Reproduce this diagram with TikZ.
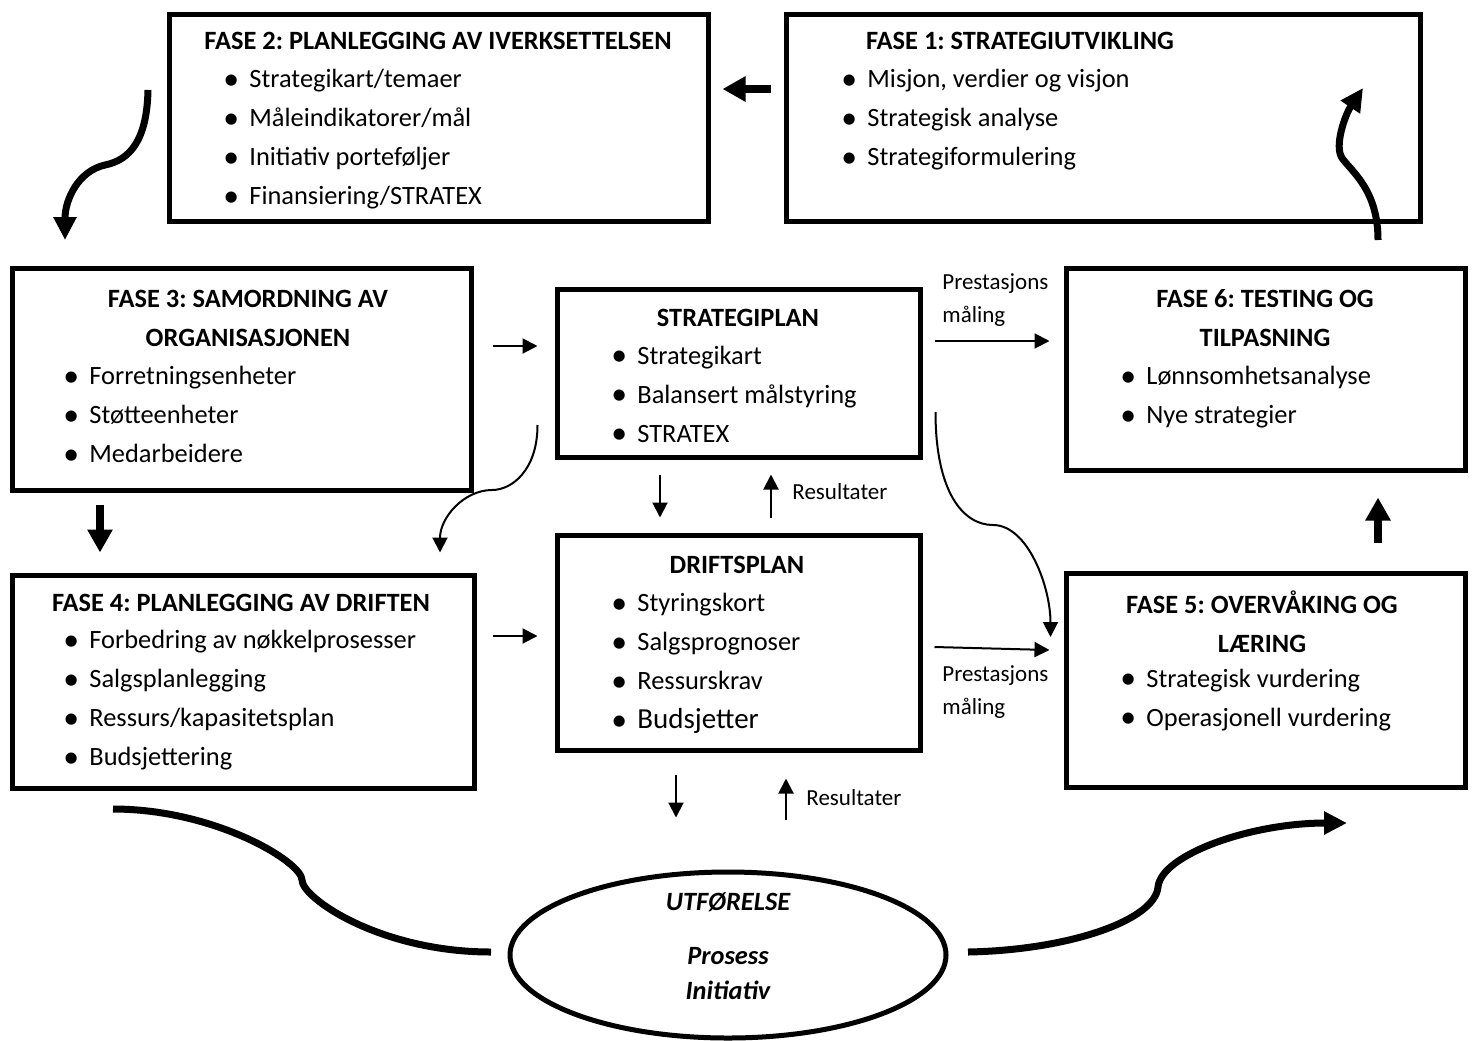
\documentclass[tikz,border=0pt]{standalone}
\usepackage{fontspec}
\usepackage{graphicx}
\setmainfont{Carlito}
\usetikzlibrary{arrows.meta,shapes.geometric}
\frenchspacing

\newcommand{\blt}{\makebox[13pt][l]{\raisebox{-0.7pt}{\scalebox{1.2}{\textbullet}}}}
\newcommand{\punkter}[1]{\begin{tabular}{@{}l@{}}#1\end{tabular}}

\tikzset{
  boks/.style={draw, line width=2.5pt, inner sep=0pt},
  tittel/.style={font=\fontsize{13.2pt}{19.5pt}\selectfont\bfseries, align=center, inner sep=0pt},
  liste/.style={anchor=west, inner sep=0pt},
  etikett/.style={font=\fontsize{11.5pt}{16.5pt}\selectfont, align=left, anchor=west, inner sep=0pt},
  tynn/.style={line width=1pt, -{Triangle[length=7.5pt,width=7.5pt]}},
  tykk/.style={line width=4pt, -{Triangle[length=11.5pt,width=12pt]}},
  buet/.style={line width=3.5pt, -{Triangle[length=11.5pt,width=11pt]}}
}

\begin{document}
\begin{tikzpicture}[x=0.5pt,y=-0.5pt,font=\fontsize{13.2pt}{19.5pt}\selectfont]
\useasboundingbox (0,0) rectangle (1472,1040);

\node[boks, minimum width=269.5pt, minimum height=103.5pt] (fase2) at (438.5,117.5) {};
\node[tittel] (t2) at (438,41) {FASE 2: PLANLEGGING AV IVERKSETTELSEN};
\node[liste] (l2) at (223,138.5) {\punkter{\blt Strategikart/temaer\\ \blt Måleindikatorer/mål\\ \blt Initiativ porteføljer\\ \blt Finansiering/STRATEX}};

\node[boks, minimum width=317pt, minimum height=103.5pt] (fase1) at (1103,117.5) {};
\node[tittel] (t1) at (1020,41) {FASE 1: STRATEGIUTVIKLING};
\node[liste] (l1) at (841,119) {\punkter{\blt Misjon, verdier og visjon\\ \blt Strategisk analyse\\ \blt Strategiformulering}};

\node[boks, minimum width=229.5pt, minimum height=111pt] (fase3) at (241.5,379) {};
\node[tittel] (t3) at (248,318) {FASE 3: SAMORDNING AV\\ ORGANISASJONEN};
\node[liste] (l3) at (63,416) {\punkter{\blt Forretningsenheter\\ \blt Støtteenheter\\ \blt Medarbeidere}};

\node[boks, minimum width=181.5pt, minimum height=84pt] (sp) at (738.5,373) {};
\node[tittel] (tsp) at (738,318) {STRATEGIPLAN};
\node[liste] (lsp) at (611,395.5) {\punkter{\blt Strategikart\\ \blt Balansert målstyring\\ \blt STRATEX}};

\node[boks, minimum width=199.5pt, minimum height=101pt] (fase6) at (1265.5,369) {};
\node[tittel] (t6) at (1265,318) {FASE 6: TESTING OG\\ TILPASNING};
\node[liste] (l6) at (1120,396.5) {\punkter{\blt Lønnsomhetsanalyse\\ \blt Nye strategier}};

\node[boks, minimum width=231pt, minimum height=106.5pt] (fase4) at (243,681.5) {};
\node[tittel] (t4) at (241,603) {FASE 4: PLANLEGGING AV DRIFTEN};
\node[liste] (l4) at (63,699.5) {\punkter{\blt Forbedring av nøkkelprosesser\\ \blt Salgsplanlegging\\ \blt Ressurs/kapasitetsplan\\ \blt Budsjettering}};

\node[boks, minimum width=181.5pt, minimum height=107.5pt] (dp) at (738.5,642.5) {};
\node[tittel] (tdp) at (737,565) {DRIFTSPLAN};
\node[liste] (ldp) at (611,662.5) {\punkter{\blt Styringskort\\ \blt Salgsprognoser\\ \blt Ressurskrav\\ \blt {\fontsize{14.5pt}{19.5pt}\selectfont Budsjetter}}};

\node[boks, minimum width=199.5pt, minimum height=107pt] (fase5) at (1265.5,680) {};
\node[tittel] (t5) at (1262,622) {FASE 5: OVERVÅKING OG\\ LÆRING};
\node[liste] (l5) at (1120,699) {\punkter{\blt Strategisk vurdering\\ \blt Operasjonell vurdering}};

\node[ellipse, draw, line width=2.5pt, minimum width=218pt, minimum height=83pt] (utf) at (728,955) {};
\node[font=\fontsize{13.2pt}{17.5pt}\selectfont\bfseries\itshape, align=center, inner sep=0pt] (tutf) at (728,946) {UTFØRELSE\\[9.5pt] Prosess\\ Initiativ};

\node[etikett] (e1) at (942,300) {Prestasjons\\ måling};
\node[etikett] (e2) at (942,692) {Prestasjons\\ måling};
\node[etikett] (r1) at (792,492) {Resultater};
\node[etikett] (r2) at (806,798) {Resultater};

\draw[tykk] ([xshift=-6.5pt,yshift=14.25pt]fase1.west) -- ([xshift=6pt,yshift=14.25pt]fase2.east);
\draw[tykk] ([xshift=-70.75pt,yshift=-6pt]fase3.south) -- ([xshift=-71.5pt,yshift=10pt]fase4.north);
\draw[tykk] ([xshift=56.25pt,yshift=14pt]fase5.north) -- ([xshift=56.25pt,yshift=-12.5pt]fase6.south);

\draw[tynn] ([xshift=9.5pt,yshift=16.5pt]fase3.east) -- ([xshift=-8.5pt,yshift=13.5pt]sp.west);
\draw[tynn] ([xshift=8pt,yshift=22.75pt]fase4.east) -- ([xshift=-8.5pt,yshift=3.25pt]dp.west);
\draw[tynn] ([xshift=6pt,yshift=16pt]sp.east) -- ([xshift=-7pt,yshift=14pt]fase6.west);
\draw[tynn] ([xshift=6pt,yshift=-2.25pt]dp.east) -- ([xshift=-7pt,yshift=15pt]fase5.west);
\draw[tynn] ([xshift=-39.25pt,yshift=-7.5pt]sp.south) -- ([xshift=-39.25pt,yshift=7.5pt]dp.north);
\draw[tynn] ([xshift=16.25pt,yshift=7.5pt]dp.north) -- ([xshift=16.25pt,yshift=-7.5pt]sp.south);
\draw[tynn] ([xshift=-31.25pt,yshift=-11pt]dp.south) -- ([xshift=-26pt,yshift=26pt]utf.north);
\draw[tynn] ([xshift=29pt,yshift=25pt]utf.north) -- ([xshift=23.75pt,yshift=-13pt]dp.south);

\draw[tynn] ([xshift=-8.5pt,yshift=-26pt]sp.west) .. controls +(0,45) and +(20,0) .. (492,490) .. controls +(-28,0) and +(0,-35) .. ([xshift=98.5pt,yshift=10pt]fase4.north);
\draw[tynn] ([xshift=6.5pt,yshift=-19.5pt]sp.east) .. controls +(0,80) and +(-30,0) .. (993,525) .. controls +(35,0) and +(0,-50) .. ([xshift=-6.5pt,yshift=21.5pt]fase5.west);

\coordinate (k1a) at (148,90);
\coordinate (k1b) at (65,240);
\coordinate (k2a) at (1378,240);
\coordinate (k2b) at (1363,88);
\coordinate (k3a) at (113,809);
\coordinate (k3b) at (491,952);
\coordinate (k4a) at (968,952);
\coordinate (k4b) at (1347,823);
\draw[buet] (k1a) .. controls (147,140) and (130,160) .. (105,165) .. controls (78,171) and (65,200) .. (k1b);
\draw[buet] (k2a) .. controls (1378,190) and (1352,172) .. (1342,158) .. controls (1334,146) and (1345,115) .. (k2b);
\draw[line width=3.5pt] (k3a) .. controls (215,809) and (302,862) .. (302,880) .. controls (302,898) and (380,952) .. (k3b);
\draw[buet] (k4a) .. controls (1070,950) and (1155,920) .. (1158,887) .. controls (1161,855) and (1250,823) .. (k4b);
\end{tikzpicture}
\end{document}
